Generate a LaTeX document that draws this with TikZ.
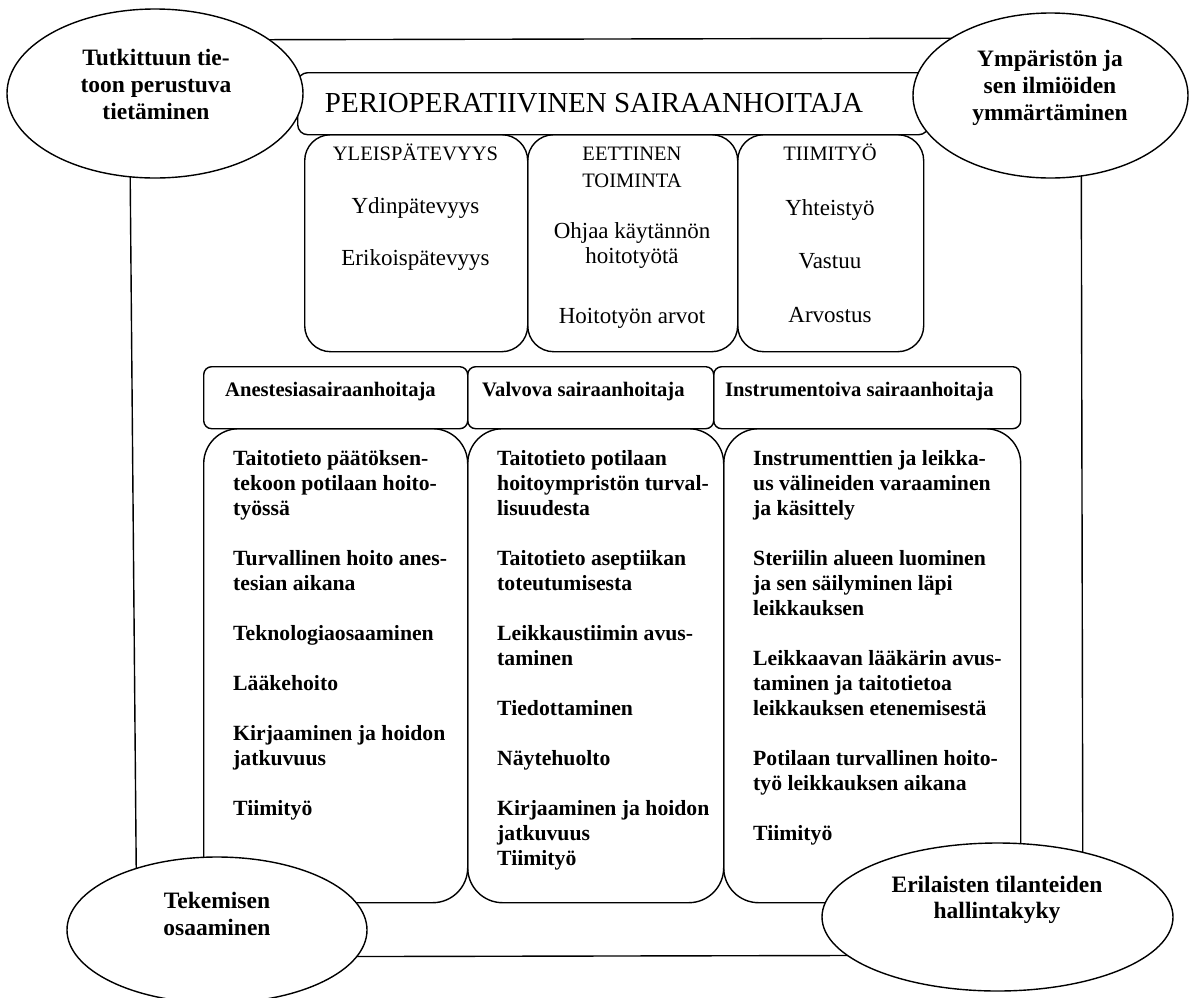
\documentclass[tikz,border=0pt]{standalone}
\usepackage{fontspec}
\setmainfont{Liberation Serif}
\usetikzlibrary{shapes.geometric}
\tikzset{
  ln/.style={line width=1.4pt},
  rbox/.style={draw, line width=1.4pt, inner sep=0pt, anchor=north west},
  ell/.style={draw, ellipse, fill=white, line width=1.4pt, inner sep=0pt},
  etext/.style={font=\fontsize{23.5pt}{27pt}\selectfont\bfseries, anchor=base, inner sep=0pt},
  ctext/.style={font=\fontsize{21.7pt}{25pt}\selectfont\bfseries, anchor=base west, inner sep=0pt},
  htext/.style={font=\fontsize{20.6pt}{24pt}\selectfont\bfseries, anchor=base west, inner sep=0pt},
  ttext/.style={font=\fontsize{23pt}{26pt}\selectfont, anchor=base, inner sep=0pt},
  capt/.style={font=\fontsize{20.5pt}{26pt}\selectfont, anchor=base, inner sep=0pt},
}
\begin{document}
\begin{tikzpicture}[x=1pt,y=-1pt]
\useasboundingbox (0,0) rectangle (1192,997);
% outer frame
\coordinate (f1) at (129,40);
\coordinate (f2) at (1081,38);
\coordinate (f3) at (1083,955);
\coordinate (f4) at (137,957);
\draw[ln] (f1) -- (f2) -- (f3) -- (f4) -- cycle;
% lower columns
\node[rbox, rounded corners=35pt, minimum width=264pt, minimum height=474pt] (c1) at (203,428) {};
\node[rbox, rounded corners=35pt, minimum width=256pt, minimum height=474pt] (c2) at (467,428) {};
\node[rbox, rounded corners=35pt, minimum width=297pt, minimum height=474pt] (c3) at (723,428) {};
% header row
\node[rbox, rounded corners=8pt, minimum width=264pt, minimum height=62pt] (r1) at (203,366) {};
\node[rbox, rounded corners=8pt, minimum width=246pt, minimum height=62pt] (r2) at (467,366) {};
\node[rbox, rounded corners=8pt, minimum width=307pt, minimum height=62pt] (r3) at (713,366) {};
% top boxes
\node[rbox, rounded corners=26pt, minimum width=223pt, minimum height=217pt] (yleis) at (304,134) {};
\node[rbox, rounded corners=26pt, minimum width=210pt, minimum height=217pt] (eett) at (527,134) {};
\node[rbox, rounded corners=26pt, minimum width=186pt, minimum height=217pt] (tiimi) at (737,134) {};
% title box
\node[rbox, rounded corners=10pt, minimum width=631pt, minimum height=62pt] (titlebox) at (297,72) {};
\node[font=\fontsize{29pt}{32pt}\selectfont, anchor=base, inner sep=0pt] (title) at (594,112) {PERIOPERATIIVINEN SAIRAANHOITAJA};
% ellipses
\node[ell, minimum width=296pt, minimum height=169pt] (etl) at (155,93.5) {};
\node[ell, minimum width=275pt, minimum height=165pt] (etr) at (1050.5,95.5) {};
\node[ell, minimum width=300pt, minimum height=146pt] (ebl) at (217,930) {};
\node[ell, minimum width=351pt, minimum height=148pt] (ebr) at (997.5,917) {};
% ellipse texts
\node[etext] (tl1) at (156,65) {Tutkittuun tie-};
\node[etext] (tl2) at (156,92) {toon perustuva};
\node[etext] (tl3) at (156,119) {tietäminen};
\node[etext] (tr1) at (1050,66) {Ympäristön ja};
\node[etext] (tr2) at (1050,93) {sen ilmiöiden};
\node[etext] (tr3) at (1050,120) {ymmärtäminen};
\node[etext] (bl1) at (217,908) {Tekemisen};
\node[etext] (bl2) at (217,935) {osaaminen};
\node[etext] (br1) at (997,892) {Erilaisten tilanteiden};
\node[etext] (br2) at (997,918) {hallintakyky};
% top box texts
\node[capt] (y1) at (415.5,160) {YLEISPÄTEVYYS};
\node[ttext] (y2) at (415.5,213) {Ydinpätevyys};
\node[ttext] (y3) at (415.5,265) {Erikoispätevyys};
\node[capt] (e1) at (632,160) {EETTINEN};
\node[capt] (e2) at (632,187) {TOIMINTA};
\node[ttext] (e3) at (632,238) {Ohjaa käytännön};
\node[ttext] (e4) at (632,263) {hoitotyötä};
\node[ttext] (e5) at (632,323) {Hoitotyön arvot};
\node[capt] (t1) at (830,160) {TIIMITYÖ};
\node[ttext] (t2) at (830,215) {Yhteistyö};
\node[ttext] (t3) at (830,268) {Vastuu};
\node[ttext] (t4) at (830,322) {Arvostus};
% header texts
\node[htext] (h1) at (225,396) {Anestesiasairaanhoitaja};
\node[htext] (h2) at (482,396) {Valvova sairaanhoitaja};
\node[htext] (h3) at (725,396) {Instrumentoiva sairaanhoitaja};
% column texts
\foreach \k/\t in {0/Taitotieto päätöksen-,1/tekoon potilaan hoito-,2/työssä,4/Turvallinen hoito anes-,5/tesian aikana,7/Teknologiaosaaminen,9/Lääkehoito,11/Kirjaaminen ja hoidon,12/jatkuvuus,14/Tiimityö}
  \node[ctext] (a\k) at (233,{465+25*\k}) {\t};
\foreach \k/\t in {0/Taitotieto potilaan,1/hoitoympristön turval-,2/lisuudesta,4/Taitotieto aseptiikan,5/toteutumisesta,7/Leikkaustiimin avus-,8/taminen,10/Tiedottaminen,12/Näytehuolto,14/Kirjaaminen ja hoidon,15/jatkuvuus,16/Tiimityö}
  \node[ctext] (b\k) at (497,{465+25*\k}) {\t};
\foreach \k/\t in {0/Instrumenttien ja leikka-,1/us välineiden varaaminen,2/ja käsittely,4/Steriilin alueen luominen,5/ja sen säilyminen läpi,6/leikkauksen,8/Leikkaavan lääkärin avus-,9/taminen ja taitotietoa,10/leikkauksen etenemisestä,12/Potilaan turvallinen hoito-,13/työ leikkauksen aikana,15/Tiimityö}
  \node[ctext] (d\k) at (753,{465+25*\k}) {\t};
\end{tikzpicture}
\end{document}
